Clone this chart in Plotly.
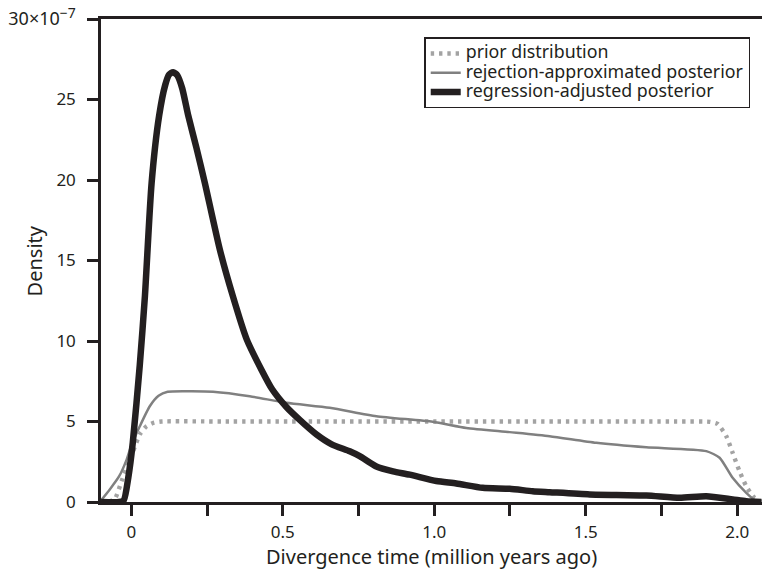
import plotly.graph_objects as go

# Data (density in units of 1e-7)
prior_x = [-0.1, -0.07, -0.054, -0.032, -0.012, 0.006, 0.028, 0.05, 0.075, 0.1, 0.3, 0.6, 1.0, 1.4, 1.8, 1.91, 1.935, 1.964, 1.985, 2.008, 2.03, 2.055, 2.08]
prior_y = [0.0, 0.05, 0.2, 1.3, 2.3, 3.15, 4.2, 4.7, 4.93, 5.0, 5.0, 5.0, 5.0, 5.0, 5.0, 4.98, 4.85, 4.09, 3.06, 1.9, 0.98, 0.3, 0.0]

rej_x = [-0.1, -0.071, -0.04, -0.016, 0.0, 0.028, 0.061, 0.09, 0.12, 0.2, 0.27, 0.391, 0.512, 0.655, 0.809, 0.995, 1.106, 1.249, 1.381, 1.535, 1.70, 1.898, 1.942, 1.985, 2.03, 2.06, 2.08]
rej_y = [0.1, 0.78, 1.6, 2.6, 3.5, 4.7, 5.95, 6.6, 6.85, 6.88, 6.85, 6.57, 6.16, 5.85, 5.33, 4.98, 4.6, 4.34, 4.09, 3.68, 3.4, 3.16, 2.75, 1.5, 0.57, 0.1, 0.0]

reg_x = [-0.1, -0.04, -0.025, -0.01, 0.005, 0.028, 0.045, 0.067, 0.092, 0.112, 0.125, 0.138, 0.152, 0.168, 0.188, 0.215, 0.243, 0.292, 0.335, 0.381, 0.43, 0.465, 0.512, 0.556, 0.611, 0.66, 0.721, 0.754, 0.809, 0.864, 0.919, 1.007, 1.073, 1.16, 1.249, 1.325, 1.381, 1.513, 1.70, 1.81, 1.898, 1.985, 2.03, 2.08]
reg_y = [0.0, 0.0, 0.1, 1.5, 3.7, 8.5, 12.8, 19.8, 24.0, 25.9, 26.55, 26.7, 26.5, 25.7, 24.0, 22.0, 19.8, 15.7, 12.8, 10.1, 8.2, 7.0, 5.9, 5.1, 4.2, 3.6, 3.15, 2.85, 2.2, 1.9, 1.7, 1.3, 1.15, 0.88, 0.82, 0.67, 0.61, 0.47, 0.4, 0.26, 0.36, 0.16, 0.05, 0.0]

series_names = ["prior distribution", "rejection-approximated posterior", "regression-adjusted posterior"]

x_tickvals = [0, 0.25, 0.5, 0.75, 1.0, 1.25, 1.5, 1.75, 2.0]
x_ticktext = ["0", "", "0.5", "", "1.0", "", "1.5", "", "2.0"]
y_tickvals = [0, 5, 10, 15, 20, 25, 30]
y_ticktext = ["0", "5", "10", "15", "20", "25",
              "<span style='font-size:18px'>30×10</span><sup><span style='font-size:14px'>−7</span></sup>"]

x_title = "Divergence time (million years ago)"
y_title = "Density"

FONT = "Noto Sans"
INK = "#231f20"


def legend_label(s):
    return "<span style='font-size:17.8px'>" + s + "</span>"


fig = go.Figure()
fig.add_trace(go.Scatter(x=prior_x, y=prior_y, mode="lines", name=legend_label(series_names[0]),
                         line=dict(color="#a3a3a3", width=4.4, dash="3.4px,4.9px", shape="spline", smoothing=0.6)))
fig.add_trace(go.Scatter(x=rej_x, y=rej_y, mode="lines", name=legend_label(series_names[1]),
                         line=dict(color="#808080", width=2.5, shape="spline", smoothing=0.6)))
fig.add_trace(go.Scatter(x=reg_x, y=reg_y, mode="lines", name=legend_label(series_names[2]),
                         line=dict(color=INK, width=6.5, shape="spline", smoothing=0.6)))

fig.update_layout(
    width=762, height=570,
    margin=dict(l=101, r=0, t=19, b=68, autoexpand=False),
    paper_bgcolor="white", plot_bgcolor="white",
    font=dict(family=FONT, color=INK, size=17),
    showlegend=True,
    legend=dict(x=0.489, y=0.962, xanchor="left", yanchor="top",
                bordercolor=INK, borderwidth=1.5, bgcolor="white",
                font=dict(family=FONT, size=12.5, color=INK),
                tracegroupgap=0, itemwidth=30),
    xaxis=dict(range=[-0.1, 2.082], tickvals=x_tickvals, ticktext=x_ticktext,
               ticks="outside", ticklen=11, tickwidth=2.5, tickcolor=INK,
               showline=True, linewidth=2.5, linecolor=INK, mirror=True,
               showgrid=False, zeroline=False, automargin=False,
               ticklabelstandoff=2,
               tickfont=dict(size=17, color=INK)),
    yaxis=dict(range=[0, 30], tickvals=y_tickvals, ticktext=y_ticktext,
               ticks="outside", ticklen=11, tickwidth=2.5, tickcolor=INK,
               showline=True, linewidth=2.5, linecolor=INK,
               showgrid=False, zeroline=False, automargin=False,
               ticklabelstandoff=8,
               tickfont=dict(size=17, color=INK)),
    annotations=[
        dict(text=x_title, xref="paper", yref="paper", x=0.5, y=-0.113, xanchor="center", yanchor="middle",
             showarrow=False, font=dict(size=20, color=INK, family=FONT)),
        dict(text=y_title, xref="paper", yref="paper", x=-0.1, y=0.5, xanchor="center", yanchor="middle",
             textangle=-90, showarrow=False, font=dict(size=20, color=INK, family=FONT)),
    ],
)

fig.write_html("out.html")
